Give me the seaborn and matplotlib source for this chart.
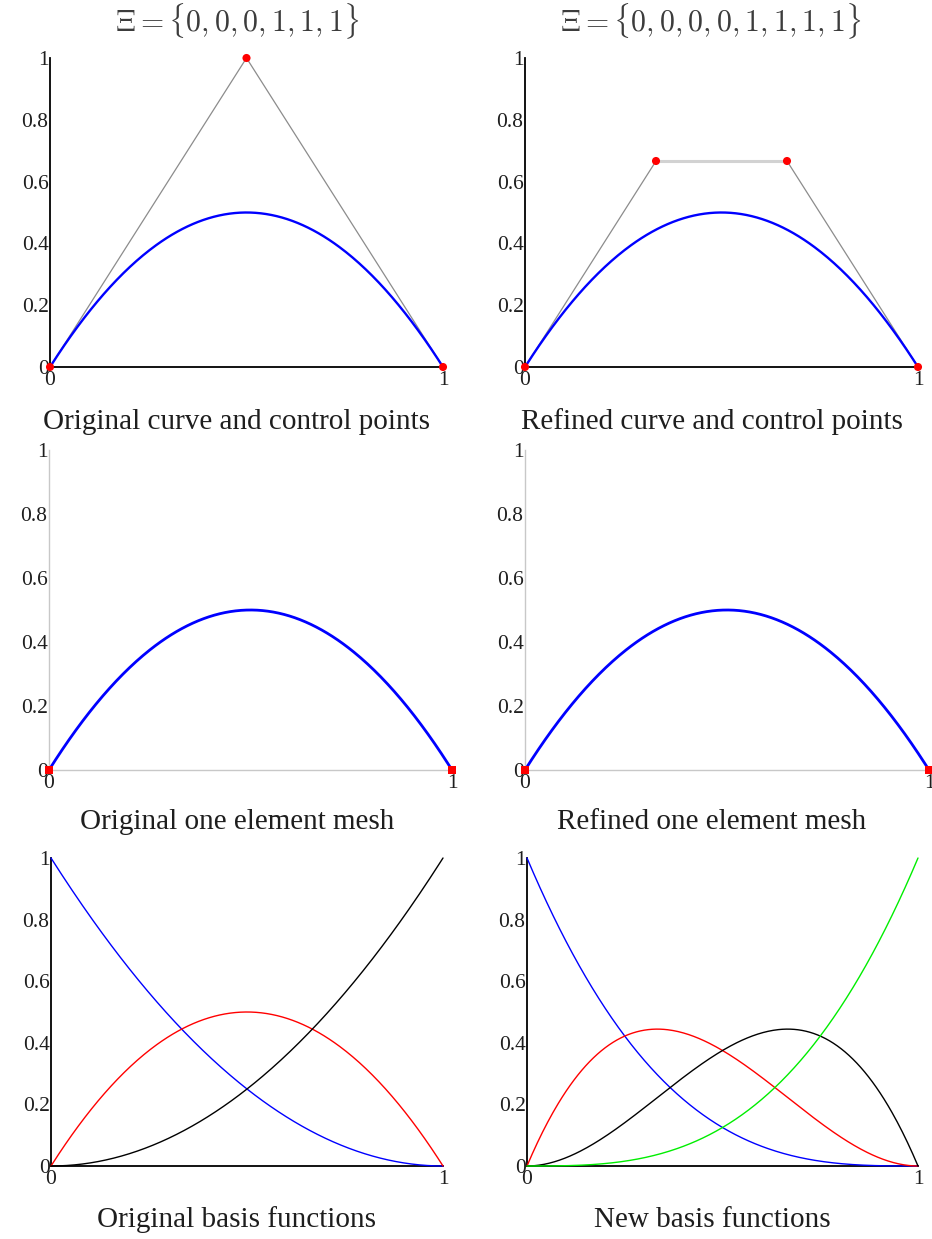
import numpy as np
import pandas as pd
import matplotlib
matplotlib.use("Agg")
import matplotlib.pyplot as plt
import seaborn as sns

# Knot vectors and control points of the quadratic curve and its degree-elevated cubic form
knots_orig = [0, 0, 0, 1, 1, 1]
knots_new = [0, 0, 0, 0, 1, 1, 1, 1]
ctrl_x_orig = [0.0, 0.5, 1.0]
ctrl_y_orig = [0.0, 1.0, 0.0]
ctrl_x_new = [0.0, 1 / 3, 2 / 3, 1.0]
ctrl_y_new = [0.0, 2 / 3, 2 / 3, 0.0]
mesh_nodes_x = [0.0, 1.0]
mesh_nodes_y = [0.0, 0.0]
basis_colors_orig = ["blue", "red", "black"]
basis_colors_new = ["blue", "red", "black", "#00ee00"]
captions = ["Original curve and control points", "Refined curve and control points",
            "Original one element mesh", "Refined one element mesh",
            "Original basis functions", "New basis functions"]
ytick_vals = [0, 0.2, 0.4, 0.6, 0.8, 1]
ytick_text = ["0", "0.2", "0.4", "0.6", "0.8", "1"]
xtick_vals = [0, 1]
xtick_text = ["0", "1"]


def bspline_basis(knots, p, u):
    """Cox-de Boor recursion; returns array (n_basis, len(u))."""
    k = np.asarray(knots, float)
    n = len(k) - p - 1
    N = np.zeros((len(k) - 1, len(u)))
    for i in range(len(k) - 1):
        if k[i] < k[i + 1]:
            last = (k[i + 1] == k[-1])
            N[i] = ((u >= k[i]) & ((u < k[i + 1]) | (last & (u <= k[i + 1])))).astype(float)
    for d in range(1, p + 1):
        Nn = np.zeros((len(k) - 1 - d, len(u)))
        for i in range(len(k) - 1 - d):
            a = 0.0
            if k[i + d] != k[i]:
                a = (u - k[i]) / (k[i + d] - k[i]) * N[i]
            b = 0.0
            if k[i + d + 1] != k[i + 1]:
                b = (k[i + d + 1] - u) / (k[i + d + 1] - k[i + 1]) * N[i + 1]
            Nn[i] = a + b
        N = Nn
    return N[:n]


u = np.linspace(0, 1, 301)
p_orig = len(knots_orig) - len(ctrl_x_orig) - 1
p_new = len(knots_new) - len(ctrl_x_new) - 1
B_orig = bspline_basis(knots_orig, p_orig, u)
B_new = bspline_basis(knots_new, p_new, u)
curve_orig = pd.DataFrame({"x": np.asarray(ctrl_x_orig) @ B_orig, "y": np.asarray(ctrl_y_orig) @ B_orig})
curve_new = pd.DataFrame({"x": np.asarray(ctrl_x_new) @ B_new, "y": np.asarray(ctrl_y_new) @ B_new})

sns.set_style("white")
plt.rcParams["font.family"] = ["Liberation Serif", "DejaVu Serif"]
plt.rcParams["mathtext.fontset"] = "cm"
text_color = "#1e1e1e"

fig = plt.figure(figsize=(9.32, 12.39), dpi=100)
W, H = 932, 1239


def add_axes(x0, x1, y0, y1):
    return fig.add_axes([x0 / W, 1 - y1 / H, (x1 - x0) / W, (y1 - y0) / H])


boxes = [(50, 443, 58, 367), (525, 918, 58, 367),
         (49, 452, 450, 770), (525, 929, 450, 770),
         (51, 443, 858, 1166), (527, 918, 858, 1166)]
axes = [add_axes(*b) for b in boxes]


def style_axes(ax, spine_color, lw):
    ax.set_xlim(0, 1)
    ax.set_ylim(0, 1)
    for s in ["top", "right"]:
        ax.spines[s].set_visible(False)
    for s in ["left", "bottom"]:
        ax.spines[s].set_color(spine_color)
        ax.spines[s].set_linewidth(lw)
    ax.set_yticks(ytick_vals, ytick_text)
    ax.set_xticks(xtick_vals, xtick_text)
    ax.tick_params(axis="y", direction="in", length=4, width=1, pad=1,
                   labelsize=15.5, colors=spine_color, labelcolor=text_color)
    ax.tick_params(axis="x", direction="in", length=0, pad=3,
                   labelsize=15.5, labelcolor=text_color)
    ax.set_xlabel("")
    ax.set_ylabel("")
    ax.patch.set_alpha(0)


# Top row: curves with control polygons
for ax, cx, cy, crv in [(axes[0], ctrl_x_orig, ctrl_y_orig, curve_orig),
                        (axes[1], ctrl_x_new, ctrl_y_new, curve_new)]:
    style_axes(ax, "black", 1.3)
    poly = pd.DataFrame({"x": cx, "y": cy})
    sns.lineplot(data=poly, x="x", y="y", ax=ax, color="#8c8c8c", lw=0.9,
                 sort=False, estimator=None, zorder=2)
    sns.lineplot(data=crv, x="x", y="y", ax=ax, color="blue", lw=1.7,
                 sort=False, estimator=None, zorder=3)
    sns.scatterplot(data=poly, x="x", y="y", ax=ax, color="red", s=34,
                    edgecolor="none", clip_on=False, zorder=5)
    ax.set_xlabel("")
    ax.set_ylabel("")

# lighter, wider middle leg of the refined control polygon
mid = pd.DataFrame({"x": ctrl_x_new[1:3], "y": ctrl_y_new[1:3]})
sns.lineplot(data=mid, x="x", y="y", ax=axes[1], color="#d2d2d2", lw=2.2,
             sort=False, estimator=None, zorder=2.5)
axes[1].set_xlabel("")
axes[1].set_ylabel("")

# Middle row: one element meshes
for ax, crv in [(axes[2], curve_orig), (axes[3], curve_new)]:
    style_axes(ax, "#c8c8c8", 1.0)
    sns.lineplot(data=crv, x="x", y="y", ax=ax, color="blue", lw=2.0,
                 sort=False, estimator=None, zorder=3)
    nodes = pd.DataFrame({"x": mesh_nodes_x, "y": mesh_nodes_y})
    sns.scatterplot(data=nodes, x="x", y="y", ax=ax, color="red", marker="s",
                    s=40, edgecolor="none", clip_on=False, zorder=5)
    ax.set_xlabel("")
    ax.set_ylabel("")

# Bottom row: basis functions
for ax, B, cols in [(axes[4], B_orig, basis_colors_orig), (axes[5], B_new, basis_colors_new)]:
    style_axes(ax, "black", 1.3)
    for i, c in enumerate(cols):
        df = pd.DataFrame({"x": u, "y": B[i]})
        sns.lineplot(data=df, x="x", y="y", ax=ax, color=c, lw=1.0,
                     sort=False, estimator=None, clip_on=False, zorder=3)
    ax.set_xlabel("")
    ax.set_ylabel("")

# Knot vector titles
def knot_label(k):
    return r"$\Xi = \{" + ",".join(str(v) for v in k) + r"\}$"

fig.text(237 / W, 1 - 21 / H, knot_label(knots_orig), ha="center", va="center",
         fontsize=21.5, color="#3c3c3c")
fig.text(711 / W, 1 - 21 / H, knot_label(knots_new), ha="center", va="center",
         fontsize=21.5, color="#3c3c3c")

# Captions under each panel
cap_pos = [(237, 422), (712, 422), (237, 822), (712, 822), (237, 1220), (712, 1220)]
for (cx, cy), t in zip(cap_pos, captions):
    fig.text(cx / W, 1 - cy / H, t, ha="center", va="center", fontsize=21, color=text_color)

fig.savefig("out.png", dpi=100)
